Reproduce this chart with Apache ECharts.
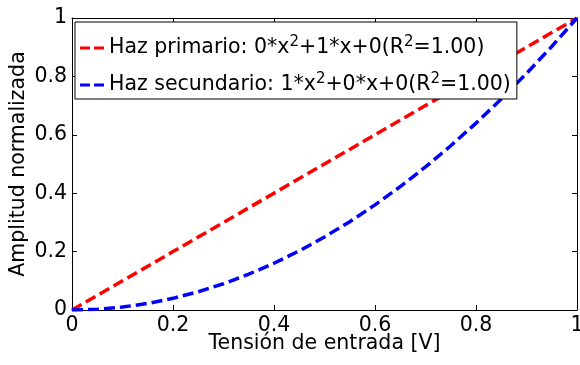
<!DOCTYPE html>
<html>
<head>
<meta charset="utf-8">
<script src="https://cdn.jsdelivr.net/npm/echarts@6/dist/echarts.min.js"></script>
<style>
  html, body { margin: 0; padding: 0; background: #fff; }
  #chart { width: 580px; height: 365px; }
</style>
</head>
<body>
<div id="chart"></div>
<script>
// Input voltage samples (V)
const voltage = [0, 0.05, 0.1, 0.15, 0.2, 0.25, 0.3, 0.35, 0.4, 0.45, 0.5,
                 0.55, 0.6, 0.65, 0.7, 0.75, 0.8, 0.85, 0.9, 0.95, 1];
// Primary beam: linear response
const primaryBeam = [0, 0.05, 0.1, 0.15, 0.2, 0.25, 0.3, 0.35, 0.4, 0.45, 0.5,
                     0.55, 0.6, 0.65, 0.7, 0.75, 0.8, 0.85, 0.9, 0.95, 1];
// Secondary beam: quadratic response
const secondaryBeam = [0, 0.0025, 0.01, 0.0225, 0.04, 0.0625, 0.09, 0.1225, 0.16, 0.2025, 0.25,
                       0.3025, 0.36, 0.4225, 0.49, 0.5625, 0.64, 0.7225, 0.81, 0.9025, 1];

const seriesNames = ['Haz primario', 'Haz secundario'];
const legendLabels = {
  'Haz primario': 'Haz primario: 0*x{sup|2}+1*x+0(R{sup|2}=1.00)',
  'Haz secundario': 'Haz secundario: 1*x{sup|2}+0*x+0(R{sup|2}=1.00)'
};
const xTicks = { min: 0, max: 1, interval: 0.2 };
const yTicks = { min: 0, max: 1, interval: 0.2 };

const FONT = 'DejaVu Sans';
const FS = 20.5;
// two short dashes used as the legend swatch
const DASH_ICON = 'path://M0,0H10V3H0ZM14,0H24V3H14Z';

function pair(data) { return voltage.map((v, i) => [v, data[i]]); }

const baseAxis = {
  type: 'value',
  axisLine: { show: true, onZero: false, lineStyle: { color: '#000', width: 1 } },
  axisTick: { show: true, inside: true, length: 5, lineStyle: { color: '#000' } },
  splitLine: { show: false },
  axisLabel: { color: '#000', fontFamily: FONT, fontSize: FS, margin: 5,
               formatter: v => String(Math.round(v * 10) / 10) }
};

const chart = echarts.init(document.getElementById('chart'));
chart.setOption({
  animation: false,
  backgroundColor: '#fff',
  grid: { left: 72, right: 3, top: 18, bottom: 55, containLabel: false, outerBoundsMode: 'none' },
  xAxis: [
    Object.assign({}, baseAxis, xTicks, {
      position: 'bottom',
      name: 'Tensión de entrada [V]', nameLocation: 'middle', nameGap: 23,
      nameMoveOverlap: false,
      nameTextStyle: { color: '#000', fontFamily: FONT, fontSize: FS }
    }),
    Object.assign({}, baseAxis, xTicks, { position: 'top', axisLabel: { show: false } })
  ],
  yAxis: [
    Object.assign({}, baseAxis, yTicks, {
      position: 'left',
      name: 'Amplitud normalizada', nameLocation: 'middle', nameGap: 43,
      nameMoveOverlap: false,
      nameTextStyle: { color: '#000', fontFamily: FONT, fontSize: FS }
    }),
    Object.assign({}, baseAxis, yTicks, { position: 'right', axisLabel: { show: false } })
  ],
  legend: {
    orient: 'vertical',
    left: 75, top: 22,
    padding: [13, 6, 1, 5],
    itemGap: 11,
    itemWidth: 24, itemHeight: 3,
    borderColor: '#000', borderWidth: 1, borderRadius: 0,
    backgroundColor: '#fff',
    data: seriesNames.map(n => ({ name: n, icon: DASH_ICON })),
    formatter: name => legendLabels[name],
    textStyle: {
      color: '#000', fontFamily: FONT, fontSize: FS, lineHeight: 26,
      rich: {
        sup: { fontFamily: FONT, fontSize: 15, verticalAlign: 'top', lineHeight: 14 }
      }
    }
  },
  series: [
    {
      name: seriesNames[0], type: 'line', data: pair(primaryBeam),
      showSymbol: false, symbol: 'none',
      lineStyle: { color: '#ff0000', width: 3.5, type: [11, 5] },
      itemStyle: { color: '#ff0000' }
    },
    {
      name: seriesNames[1], type: 'line', data: pair(secondaryBeam),
      showSymbol: false, symbol: 'none',
      lineStyle: { color: '#0000ff', width: 3.5, type: [11, 5] },
      itemStyle: { color: '#0000ff' }
    }
  ]
});
</script>
</body>
</html>
